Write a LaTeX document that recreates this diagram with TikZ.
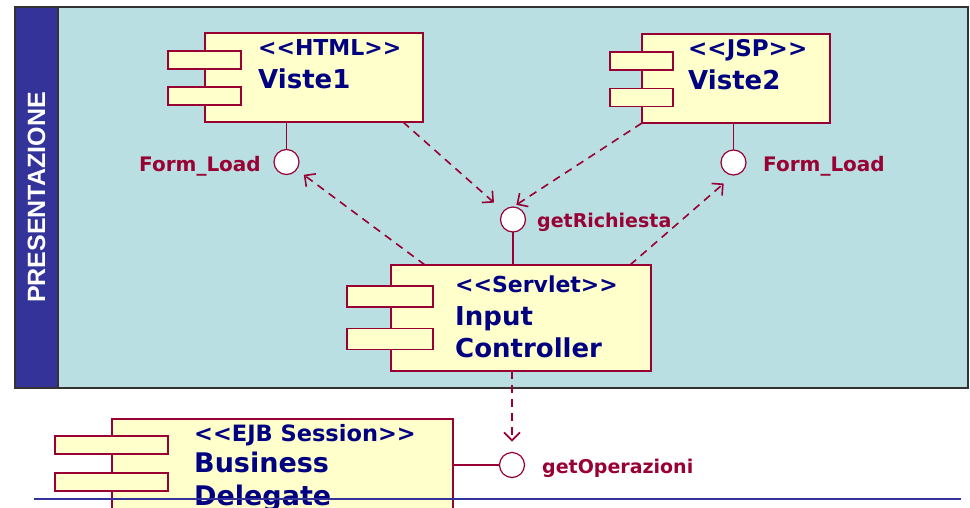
\documentclass[tikz,border=0pt]{standalone}
\usepackage{fontspec}
\setmainfont{DejaVu Sans}
\newfontfamily\barfont{Liberation Sans}
\usetikzlibrary{arrows.meta}
\definecolor{umlred}{HTML}{990033}
\definecolor{umlnavy}{HTML}{000080}
\definecolor{umlfill}{HTML}{FFFFCC}
\definecolor{panelbg}{HTML}{B9DFE2}
\definecolor{barblue}{HTML}{333399}
\newcommand{\stereo}[1]{<\kern0pt<#1>\kern0pt>}
\begin{document}
\begin{tikzpicture}[x=1pt,y=-1pt,
    comp/.style={rectangle,draw=umlred,fill=umlfill,line width=1.5pt,inner sep=0pt,outer sep=0pt},
    port/.style={comp,minimum height=18},
    iface/.style={circle,draw=umlred,fill=white,line width=1.2pt,minimum size=25,inner sep=0pt,outer sep=0pt},
    stype/.style={anchor=base west,inner sep=0pt,text=umlnavy,font=\bfseries\fontsize{22}{24}\selectfont},
    cname/.style={anchor=base west,inner sep=0pt,text=umlnavy,font=\bfseries\fontsize{26}{30}\selectfont},
    ilabel/.style={inner sep=0pt,text=umlred,font=\bfseries\fontsize{19}{22}\selectfont},
    dep/.style={draw=umlred,line width=1.6pt,dash pattern=on 8pt off 6pt,-{Straight Barb[length=8pt,width=16pt]}},
    stick/.style={draw=umlred,line width=1.2pt}]
  \useasboundingbox (0,0) rectangle (970,507);
  \clip (0,0) rectangle (970,507);

  % presentation layer
  \node[draw=black!80,fill=panelbg,line width=1.4pt,minimum width=953,minimum height=381,inner sep=0pt] (pres) at (491.5,197.5) {};
  \node[draw=black!80,fill=barblue,line width=1.4pt,minimum width=43,minimum height=381,inner sep=0pt] (presbar) at (36.5,197.5) {};
  \node[rotate=90,text=white,font=\barfont\bfseries\fontsize{25}{30}\selectfont] (prestext) at (presbar) {PRESENTAZIONE};

  % components
  \node[comp,minimum width=218,minimum height=89] (v1) at (314,77.5) {};
  \node[port,minimum width=73] (v1a) at (204.5,60) {};
  \node[port,minimum width=73] (v1b) at (204.5,96) {};
  \node[stype] (v1s) at (258,55) {\stereo{HTML}};
  \node[cname] (v1n) at (258,88) {Viste1};

  \node[comp,minimum width=188,minimum height=89] (v2) at (736,78.5) {};
  \node[port,minimum width=63] (v2a) at (641.5,61) {};
  \node[port,minimum width=63] (v2b) at (641.5,97.5) {};
  \node[stype,font=\bfseries\fontsize{23}{25}\selectfont] (v2s) at (688,56) {\stereo{JSP}};
  \node[cname] (v2n) at (688,89) {Viste2};

  \node[comp,minimum width=260,minimum height=106] (ic) at (521,318) {};
  \node[port,minimum width=86,minimum height=21] (ica) at (390,296.5) {};
  \node[port,minimum width=86,minimum height=21] (icb) at (390,339) {};
  \node[stype] (ics) at (455,292) {\stereo{Servlet}};
  \node[cname] (icn1) at (455,325) {Input};
  \node[cname] (icn2) at (455,357) {Controller};

  \node[comp,minimum width=341,minimum height=120] (bd) at (282.5,479) {};
  \node[port,minimum width=113] (bda) at (111.5,445) {};
  \node[port,minimum width=113] (bdb) at (111.5,482) {};
  \node[stype,font=\bfseries\fontsize{22.5}{24}\selectfont] (bds) at (194,441) {\stereo{EJB Session}};
  \node[cname,font=\bfseries\fontsize{27}{30}\selectfont] (bdn1) at (194,472) {Business};
  \node[cname,font=\bfseries\fontsize{27}{30}\selectfont] (bdn2) at (194,505) {Delegate};

  % interfaces
  \node[iface] (fl1) at (286.5,162) {};
  \node[iface] (fl2) at (733.5,162.5) {};
  \node[iface] (rich) at (513,219.5) {};
  \node[iface] (ops) at (512,465) {};
  \node[ilabel,anchor=base east,font=\bfseries\fontsize{20}{22}\selectfont] (fl1l) at (261,171) {Form\_Load};
  \node[ilabel,anchor=base west,font=\bfseries\fontsize{20}{22}\selectfont] (fl2l) at (763,171) {Form\_Load};
  \node[ilabel,anchor=base west] (richl) at (537,227) {getRichiesta};
  \node[ilabel,anchor=base west] (opsl) at (542,473) {getOperazioni};

  \draw[stick] (v1.south -| fl1) -- (fl1);
  \draw[stick] (v2.south -| fl2) -- (fl2);
  \draw[stick] (rich) -- (rich |- ic.north);
  \draw[stick] (bd.east |- ops) -- (ops);

  % dependencies
  \draw[dep,shorten >=13pt] ([xshift=-20pt]v1.south east) -- (rich);
  \draw[dep,shorten >=4pt] (v2.south west) -- (rich.north);
  \draw[dep,shorten >=9pt] ([xshift=34pt]ic.north west) -- (fl1);
  \draw[dep,shorten >=13pt] ([xshift=-21pt]ic.north east) -- (fl2.south);
  \draw[dep,shorten >=11pt] (ic.south -| ops) -- (ops.north);

  \draw[draw=barblue,line width=1.2pt] (34,499) -- (961,499);
\end{tikzpicture}
\end{document}
